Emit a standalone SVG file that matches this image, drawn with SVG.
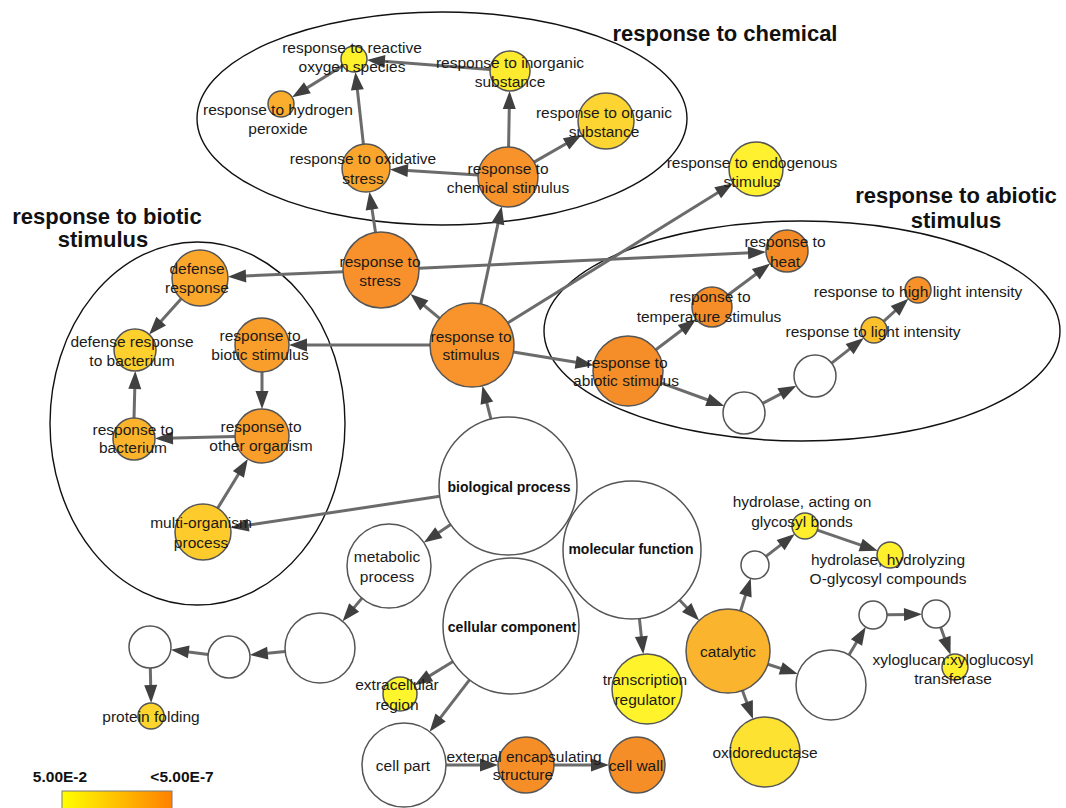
<svg xmlns="http://www.w3.org/2000/svg" width="1066" height="808" viewBox="0 0 1066 808">
<style>
.bg{fill:#ffffff}
.grp{fill:none;stroke:#111;stroke-width:1.4}
.n{stroke:#555;stroke-width:1.5}
.w{fill:#ffffff}
.t{font-family:"Liberation Sans",Arial,sans-serif;font-size:15.5px;fill:#1a1a1a;text-anchor:middle}
.b{font-family:"Liberation Sans",Arial,sans-serif;font-size:14px;font-weight:bold;fill:#111;text-anchor:middle}
.h{font-family:"Liberation Sans",Arial,sans-serif;font-size:22px;font-weight:bold;fill:#111;text-anchor:middle}
.lg{font-family:"Liberation Sans",Arial,sans-serif;font-size:15.5px;font-weight:bold;fill:#111;text-anchor:middle}
.e{fill:none;stroke:#6b6b6b;stroke-width:3;marker-end:url(#ah)}
</style>
<defs>
<marker id="ah" markerUnits="userSpaceOnUse" markerWidth="20" markerHeight="16" refX="8" refY="8" orient="auto" overflow="visible">
<path d="M0,1.5 L18,8 L0,14.5 z" fill="#404040"/>
</marker>
<linearGradient id="lgrad" x1="0" y1="0" x2="1" y2="0">
<stop offset="0" stop-color="#ffff00"/>
<stop offset="0.5" stop-color="#ffc000"/>
<stop offset="1" stop-color="#ff8000"/>
</linearGradient>
</defs>
<rect class="bg" x="0" y="0" width="1066" height="808"/>

<g id="groups">
<ellipse class="grp" cx="442" cy="118.5" rx="245" ry="106.5"/>
<ellipse class="grp" cx="197.5" cy="423.5" rx="147.5" ry="181.5"/>
<ellipse class="grp" cx="802" cy="331" rx="258" ry="110"/>
<text class="h" x="725" y="41">response to chemical</text>
<text class="h" x="956" y="203">response to abiotic</text>
<text class="h" x="956" y="228">stimulus</text>
<text class="h" x="107" y="224">response to biotic</text>
<text class="h" x="103" y="247">stimulus</text>
</g>

<g id="connectors">
<line class="e" x1="490.1" y1="69.5" x2="376.9" y2="60.8"/>
<line class="e" x1="342.9" y1="65.8" x2="300.6" y2="91.9"/>
<line class="e" x1="363.4" y1="144.2" x2="356.5" y2="81.9"/>
<line class="e" x1="508.6" y1="147" x2="509.4" y2="101"/>
<line class="e" x1="534.0" y1="162.1" x2="573.0" y2="139.8"/>
<line class="e" x1="478.1" y1="175.1" x2="399.9" y2="170.1"/>
<line class="e" x1="375.5" y1="232.4" x2="370.9" y2="201.6"/>
<line class="e" x1="480.8" y1="303.9" x2="499.6" y2="216.1"/>
<line class="e" x1="439.6" y1="318.3" x2="418.1" y2="300.5"/>
<line class="e" x1="507.7" y1="322.9" x2="724.5" y2="188.5"/>
<line class="e" x1="419" y1="268.2" x2="756" y2="252.5"/>
<line class="e" x1="343" y1="271.7" x2="238" y2="276.3"/>
<line class="e" x1="430" y1="345" x2="299" y2="345"/>
<line class="e" x1="513.4" y1="351.9" x2="583.6" y2="363.6"/>
<line class="e" x1="491.2" y1="420.1" x2="484.9" y2="395.4"/>
<line class="e" x1="439.8" y1="496.3" x2="240.6" y2="526.3"/>
<line class="e" x1="450.7" y1="524.5" x2="432.2" y2="537"/>
<line class="e" x1="655.8" y1="349.8" x2="688.1" y2="325.2"/>
<line class="e" x1="728" y1="295" x2="762.2" y2="269.5"/>
<line class="e" x1="660.9" y1="382.9" x2="714.9" y2="402.5"/>
<line class="e" x1="762.6" y1="403.3" x2="787.5" y2="390.3"/>
<line class="e" x1="831.6" y1="363.1" x2="855.9" y2="344.1"/>
<line class="e" x1="883.6" y1="321.3" x2="901" y2="305.5"/>
<line class="e" x1="181.2" y1="298.8" x2="155.8" y2="327"/>
<line class="e" x1="262" y1="372" x2="262" y2="399"/>
<line class="e" x1="235" y1="436.6" x2="165" y2="438.3"/>
<line class="e" x1="134" y1="418" x2="135" y2="381"/>
<line class="e" x1="217.7" y1="508.1" x2="242.6" y2="467.5"/>
<line class="e" x1="362" y1="598.1" x2="349" y2="613.6"/>
<line class="e" x1="285.2" y1="651.4" x2="259.8" y2="653.9"/>
<line class="e" x1="208.2" y1="654.4" x2="180.8" y2="650.9"/>
<line class="e" x1="150.3" y1="668" x2="150.9" y2="693"/>
<line class="e" x1="453" y1="661.5" x2="423" y2="679.9"/>
<line class="e" x1="469.5" y1="679.9" x2="435.7" y2="723.8"/>
<line class="e" x1="446" y1="765" x2="488" y2="765"/>
<line class="e" x1="554" y1="765" x2="599" y2="765"/>
<line class="e" x1="639.4" y1="618.6" x2="642.2" y2="644.3"/>
<line class="e" x1="679.5" y1="600" x2="692.2" y2="613.3"/>
<line class="e" x1="740.6" y1="610.9" x2="747.8" y2="587.9"/>
<line class="e" x1="766" y1="556.4" x2="786.9" y2="540.1"/>
<line class="e" x1="817.3" y1="530.2" x2="868.2" y2="547.6"/>
<line class="e" x1="767.9" y1="664.2" x2="788.3" y2="670.9"/>
<line class="e" x1="742.4" y1="690.4" x2="749.5" y2="709.7"/>
<line class="e" x1="849" y1="655" x2="860.6" y2="635.6"/>
<line class="e" x1="887" y1="614.8" x2="912" y2="614.4"/>
<line class="e" x1="940.7" y1="627.2" x2="947.2" y2="645.4"/>
</g>

<g id="ros"><circle class="n" cx="354" cy="59" r="13" fill="#fff22a"/><text class="t" x="352" y="53">response to reactive</text><text class="t" x="352" y="72">oxygen species</text></g>
<g id="h2o2"><circle class="n" cx="281" cy="104" r="13" fill="#fbae2e"/><text class="t" x="278" y="115">response to hydrogen</text><text class="t" x="278" y="134">peroxide</text></g>
<g id="inorganic"><circle class="n" cx="510" cy="71" r="20" fill="#feea2e"/><text class="t" x="510" y="68">response to inorganic</text><text class="t" x="510" y="87">substance</text></g>
<g id="organic"><circle class="n" cx="606" cy="121" r="28" fill="#fcd532"/><text class="t" x="604" y="118">response to organic</text><text class="t" x="604" y="137">substance</text></g>
<g id="oxidative"><circle class="n" cx="366" cy="168" r="24" fill="#fba52d"/><text class="t" x="363" y="164">response to oxidative</text><text class="t" x="363" y="184">stress</text></g>
<g id="chemical"><circle class="n" cx="508" cy="177" r="30" fill="#f8922a"/><text class="t" x="508" y="174">response to</text><text class="t" x="508" y="193">chemical stimulus</text></g>
<g id="endogenous"><circle class="n" cx="756" cy="169" r="27" fill="#fff030"/><text class="t" x="752" y="168">response to endogenous</text><text class="t" x="752" y="187">stimulus</text></g>
<g id="stress"><circle class="n" cx="381" cy="270" r="38" fill="#f8912b"/><text class="t" x="380" y="267">response to</text><text class="t" x="380" y="286">stress</text></g>
<g id="stimulus"><circle class="n" cx="472" cy="345" r="42" fill="#f8942b"/><text class="t" x="471" y="342">response to</text><text class="t" x="471" y="360">stimulus</text></g>
<g id="abiotic"><circle class="n" cx="628" cy="371" r="35" fill="#f58d28"/><text class="t" x="627" y="368">response to</text><text class="t" x="626" y="386">abiotic stimulus</text></g>
<g id="temperature"><circle class="n" cx="712" cy="307" r="20" fill="#f58d28"/><text class="t" x="710" y="302">response to</text><text class="t" x="709" y="322">temperature stimulus</text></g>
<g id="heat"><circle class="n" cx="787" cy="251" r="21" fill="#f48a26"/><text class="t" x="785" y="247">response to</text><text class="t" x="785" y="267">heat</text></g>
<g id="highlight"><circle class="n" cx="918" cy="290" r="13" fill="#f79128"/><text class="t" x="918" y="297">response to high light intensity</text></g>
<g id="light"><circle class="n" cx="874" cy="330" r="13" fill="#fcc02d"/><text class="t" x="873" y="337">response to light intensity</text></g>
<g id="abio-e1"><circle class="n w" cx="744" cy="413" r="21"/></g>
<g id="abio-e2"><circle class="n w" cx="815" cy="376" r="21"/></g>
<g id="defense"><circle class="n" cx="200" cy="278" r="28" fill="#fba72c"/><text class="t" x="197" y="274">defense</text><text class="t" x="197" y="293">response</text></g>
<g id="defbac"><circle class="n" cx="135" cy="350" r="21" fill="#fdd02d"/><text class="t" x="132" y="347">defense response</text><text class="t" x="132" y="366">to bacterium</text></g>
<g id="biotic"><circle class="n" cx="262" cy="345" r="27" fill="#f99d2b"/><text class="t" x="260" y="341">response to</text><text class="t" x="260" y="360">biotic stimulus</text></g>
<g id="other"><circle class="n" cx="262" cy="436" r="27" fill="#f99e2b"/><text class="t" x="261" y="432">response to</text><text class="t" x="261" y="451">other organism</text></g>
<g id="bacterium"><circle class="n" cx="134" cy="439" r="21" fill="#fbb32c"/><text class="t" x="133" y="435">response to</text><text class="t" x="133" y="453">bacterium</text></g>
<g id="multi"><circle class="n" cx="203" cy="532" r="28" fill="#fdcb2c"/><text class="t" x="201" y="528">multi-organism</text><text class="t" x="201" y="548">process</text></g>
<g id="bp"><circle class="n w" cx="508" cy="486" r="69"/><text class="b" x="509" y="492">biological process</text></g>
<g id="metabolic"><circle class="n w" cx="389" cy="566" r="42"/><text class="t" x="387" y="562">metabolic</text><text class="t" x="387" y="582">process</text></g>
<g id="meta-e1"><circle class="n w" cx="320" cy="648" r="35"/></g>
<g id="meta-e2"><circle class="n w" cx="229" cy="657" r="21"/></g>
<g id="meta-e3"><circle class="n w" cx="150" cy="647" r="21"/></g>
<g id="protein"><circle class="n" cx="151" cy="716" r="13" fill="#fdd52d"/><text class="t" x="151" y="722">protein folding</text></g>
<g id="cc"><circle class="n w" cx="511" cy="626" r="68"/><text class="b" x="512" y="632">cellular component</text></g>
<g id="extracellular"><circle class="n" cx="400" cy="694" r="17" fill="#fff52c"/><text class="t" x="397" y="690">extracellular</text><text class="t" x="397" y="710">region</text></g>
<g id="cellpart"><circle class="n w" cx="404" cy="765" r="42"/><text class="t" x="403" y="771">cell part</text></g>
<g id="external"><circle class="n" cx="526" cy="765" r="28" fill="#f68e28"/><text class="t" x="524" y="762">external encapsulating</text><text class="t" x="523" y="780">structure</text></g>
<g id="cellwall"><circle class="n" cx="637" cy="765" r="28" fill="#f68e28"/><text class="t" x="636" y="771">cell wall</text></g>
<g id="mf"><circle class="n w" cx="632" cy="550" r="69"/><text class="b" x="631" y="554">molecular function</text></g>
<g id="transcription"><circle class="n" cx="647" cy="689" r="35" fill="#fff42c"/><text class="t" x="645" y="685">transcription</text><text class="t" x="645" y="705">regulator</text></g>
<g id="catalytic"><circle class="n" cx="728" cy="651" r="42" fill="#fbb42d"/><text class="t" x="728" y="657">catalytic</text></g>
<g id="oxidoreductase"><circle class="n" cx="765" cy="752" r="35" fill="#fee232"/><text class="t" x="765" y="758">oxidoreductase</text></g>
<g id="cat-e1"><circle class="n w" cx="755" cy="565" r="14"/></g>
<g id="hydrolase1"><circle class="n" cx="805" cy="526" r="13" fill="#ffee2c"/><text class="t" x="802" y="507">hydrolase, acting on</text><text class="t" x="802" y="527">glycosyl bonds</text></g>
<g id="hydrolase2"><circle class="n" cx="890" cy="555" r="13" fill="#fff02c"/><text class="t" x="888" y="565">hydrolase, hydrolyzing</text><text class="t" x="888" y="584">O-glycosyl compounds</text></g>
<g id="cat-e2"><circle class="n w" cx="831" cy="685" r="35"/></g>
<g id="cat-e3"><circle class="n w" cx="873" cy="615" r="14"/></g>
<g id="cat-e4"><circle class="n w" cx="936" cy="614" r="14"/></g>
<g id="xyloglucan"><circle class="n" cx="955" cy="667" r="13" fill="#fff02c"/><text class="t" x="953" y="665">xyloglucan:xyloglucosyl</text><text class="t" x="953" y="684">transferase</text></g>

<g id="legend">
<text class="lg" x="60" y="782">5.00E-2</text>
<text class="lg" x="182" y="782">&lt;5.00E-7</text>
<rect x="62" y="791" width="110" height="22" fill="url(#lgrad)" stroke="#7a7a7a" stroke-width="1"/>
</g>
</svg>
